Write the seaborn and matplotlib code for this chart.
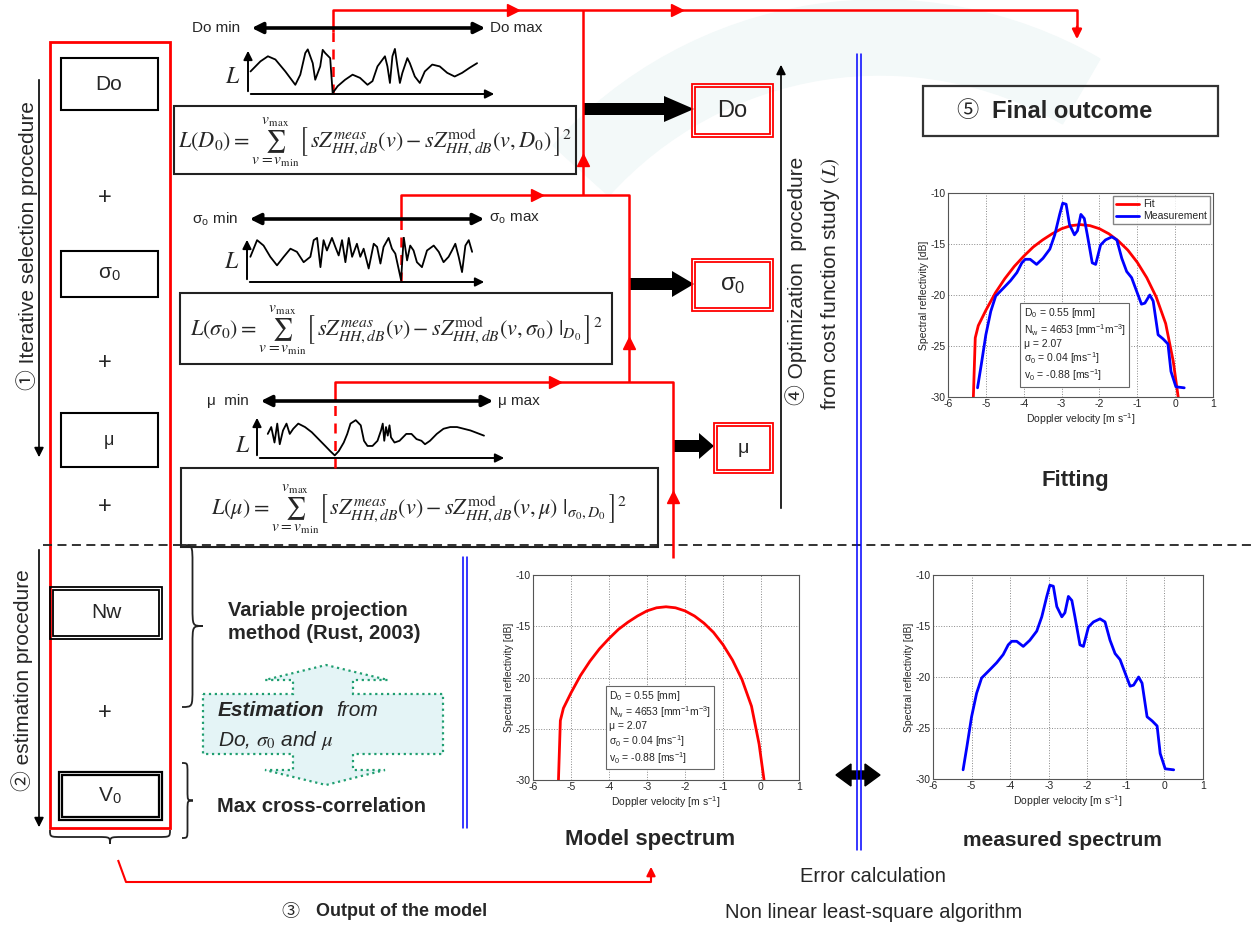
import numpy as np
import pandas as pd
import matplotlib.pyplot as plt
import matplotlib.patches as mpatches
from matplotlib.path import Path
import seaborn as sns

W, H = 1252, 927

# Spectra (Doppler velocity [m/s], dB)
model_v = [-5.33, -5.28, -5.2, -5.0, -4.75, -4.5, -4.25, -4.0, -3.75, -3.5, -3.25, -3.0,
           -2.75, -2.5, -2.25, -2.0, -1.75, -1.5, -1.25, -1.0, -0.75, -0.5, -0.25, -0.05, 0.08]
model_dB = [-30, -24.2, -23.0, -21.5, -19.8, -18.4, -17.2, -16.2, -15.3, -14.6, -14.0, -13.5,
            -13.2, -13.1, -13.2, -13.5, -14.0, -14.7, -15.6, -16.8, -18.3, -20.2, -22.8, -26.5, -30]
meas_v = [-5.22, -5.12, -5.0, -4.87, -4.74, -4.53, -4.35, -4.18, -4.05, -3.96, -3.83, -3.66,
          -3.49, -3.31, -3.18, -3.05, -2.97, -2.88, -2.79, -2.66, -2.58, -2.49, -2.40, -2.32,
          -2.19, -2.10, -1.97, -1.84, -1.67, -1.54, -1.41, -1.28, -1.15, -0.97, -0.89, -0.80,
          -0.67, -0.58, -0.45, -0.32, -0.19, -0.11, 0.02, 0.24]
meas_dB = [-29.1, -26.8, -23.9, -21.6, -20.1, -19.3, -18.6, -17.8, -16.85, -16.5, -16.5, -17.0,
           -16.4, -15.5, -14.1, -12.1, -11.0, -11.1, -13.1, -14.1, -13.7, -12.1, -12.5, -14.1,
           -16.85, -17.0, -15.1, -14.6, -14.3, -14.6, -16.4, -17.7, -18.3, -20.1, -20.9, -20.8,
           -20.0, -20.6, -23.9, -24.3, -24.8, -27.5, -29.0, -29.1]

xticks = [-6, -5, -4, -3, -2, -1, 0, 1]
yticks = [-30, -25, -20, -15, -10]
params_text = ('D$_\\mathregular{0}$ = 0.55 [mm]\n'
               'N$_\\mathregular{w}$ = 4653 [mm$^\\mathregular{-1}$m$^\\mathregular{-3}$]\n'
               'μ = 2.07\n'
               'σ$_\\mathregular{0}$ = 0.04 [ms$^\\mathregular{-1}$]\n'
               'v$_\\mathregular{0}$ = -0.88 [ms$^\\mathregular{-1}$]')

# cost function sketches: parameter position (0-100) and L (0-100)
do_pos = [1, 5, 8, 11, 15, 19, 21, 23, 24, 26, 27, 29, 30, 31, 33, 34, 36, 39, 42, 45, 48, 50,
          52, 55, 56, 57, 58, 59, 60, 61, 62, 64, 65, 67, 69, 71, 74, 77, 80, 83, 86, 89, 92]
do_L = [49, 71, 82, 75, 49, 20, 42, 89, 97, 67, 31, 60, 96, 89, 78, 2, 17, 31, 42, 35, 20, 28,
        60, 82, 60, 24, 82, 98, 60, 24, 46, 78, 67, 38, 24, 49, 64, 60, 46, 38, 46, 57, 67]
sig_pos = [1.4, 4.2, 6.9, 9.7, 12.5, 15.3, 18.1, 20.8, 23.6, 26.4, 27.8, 29.2, 30.6, 31.9, 33.3,
           35.4, 36.8, 38.2, 39.6, 41, 42.4, 43.8, 45.8, 47.2, 48.6, 50.7, 52.8, 54.2, 55.6, 56.9,
           59, 60.4, 61.8, 64.2, 65.3, 66.7, 68, 69.4, 70.8, 72.9, 75, 77.8, 79.9, 81.9, 84, 85.4,
           86.8, 88.2, 89.6, 91, 92.4, 93.8]
sig_L = [56, 93, 81, 56, 37, 56, 74, 67, 44, 56, 93, 98, 33, 93, 70, 98, 78, 59, 93, 44, 98, 56,
         85, 56, 74, 30, 85, 78, 41, 78, 98, 74, 63, 4, 100, 48, 81, 70, 44, 33, 70, 81, 67, 44,
         56, 70, 85, 56, 22, 81, 93, 67]
mu_pos = [4.3, 5.7, 7, 8.1, 9.1, 10.4, 11.8, 13.1, 14.5, 16.5, 19.2, 21.9, 24.6, 27.3, 29.3,
          31.1, 32.7, 34.7, 36.1, 37.4, 39.5, 41.5, 42.8, 44.2, 46.2, 48.2, 49.6, 50.3, 50.9,
          51.6, 52.3, 53, 53.6, 55, 57, 59.7, 61.8, 63.8, 65.8, 67.2, 69.2, 71.9, 74.6, 77.3,
          80, 82.7, 85.4, 88.1, 90.8]
mu_L = [56, 72, 36, 80, 32, 64, 80, 56, 68, 80, 72, 60, 44, 28, 16, 6, 16, 36, 56, 80, 88, 76,
        40, 28, 28, 40, 64, 80, 40, 72, 52, 76, 48, 36, 40, 56, 56, 44, 40, 32, 40, 56, 68, 72,
        72, 68, 64, 58, 52]

sns.set_style('white')
plt.rcParams['font.family'] = ['Liberation Sans', 'Noto Sans CJK JP', 'DejaVu Sans']
plt.rcParams['mathtext.fontset'] = 'stix'
plt.rcParams['axes.unicode_minus'] = False

RED = '#ff0000'
fig = plt.figure(figsize=(W / 100, H / 100), dpi=100)
ax = fig.add_axes([0, 0, 1, 1])
ax.set_xlim(0, W)
ax.set_ylim(H, 0)
ax.axis('off')


def px_axes(l, t, r, b):
    return fig.add_axes([l / W, 1 - b / H, (r - l) / W, (b - t) / H])


def rect(x0, y0, x1, y1, color='black', lw=1.5, **kw):
    ax.add_patch(mpatches.Rectangle((x0, y0), x1 - x0, y1 - y0, fill=False,
                                    edgecolor=color, lw=lw, **kw))


def double_rect(x0, y0, x1, y1, color='black', gap=3, lw=1.3):
    rect(x0, y0, x1, y1, color, lw)
    rect(x0 + gap, y0 + gap, x1 - gap, y1 - gap, color, lw)


def line(xs, ys, **kw):
    kw.setdefault('color', RED)
    kw.setdefault('lw', 1.8)
    ax.plot(xs, ys, solid_capstyle='butt', **kw)


def brace(x, y0, y1, w, vertical=True, lw=1.3):
    ym = (y0 + y1) / 2
    r = min(abs(w) * 0.9, abs(y1 - y0) / 4)
    h = x + w / 2
    pts = [(x, y0), (h, y0), (h, y0), (h, y0 + r), (h, ym - r),
           (h, ym), (h, ym), (x + w, ym), (h, ym), (h, ym), (h, ym + r),
           (h, y1 - r), (h, y1), (h, y1), (x, y1)]
    codes = [Path.MOVETO] + [Path.CURVE4] * 3 + [Path.LINETO] + [Path.CURVE4] * 6 + \
            [Path.LINETO] + [Path.CURVE4] * 3
    if not vertical:
        pts = [(p[1], p[0]) for p in pts]
    ax.add_patch(mpatches.PathPatch(Path(pts, codes), fill=False, lw=lw, edgecolor='#222'))


# faint background swoosh
ax.add_patch(mpatches.Wedge((880, 440), 440, 222, 300, width=75, color='#f3f9f9', zorder=0))

# left column
rect(50, 42, 170, 828, RED, lw=2)
for (y0, y1, lab, fs) in [(58, 110, 'Do', 15), (251, 297, 'σ$_\\mathregular{0}$', 15),
                          (413, 467, 'μ', 13)]:
    rect(61, y0, 158, y1)
    ax.text(109, (y0 + y1) / 2, lab, fontsize=fs, ha='center', va='center')
double_rect(50, 587, 162, 639)
ax.text(106, 613, 'Nw', fontsize=15, ha='center', va='center')
double_rect(59, 772, 162, 820, lw=1.6)
ax.text(110, 796, 'V$_\\mathregular{0}$', fontsize=15, ha='center', va='center')
for y in [198, 363, 507, 713]:
    ax.text(105, y, '+', fontsize=17, ha='center', va='center')
ax.annotate('', xy=(39, 460), xytext=(39, 77),
            arrowprops=dict(arrowstyle='-|>', color='k', lw=1.2, mutation_scale=14))
ax.annotate('', xy=(39, 830), xytext=(39, 547),
            arrowprops=dict(arrowstyle='-|>', color='k', lw=1.2, mutation_scale=14))
ax.text(27, 246, '① Iterative selection procedure', rotation=90, fontsize=15,
        ha='center', va='center')
ax.text(22, 680, '② estimation procedure', rotation=90, fontsize=15,
        ha='center', va='center')

# dashed separator
ax.plot([43, W], [545, 545], color='#222', lw=1.3, ls=(0, (5, 3)))

# cost function sketches
sketches = [
    (do_pos, do_L, (248, 48, 497, 94), ('Do min', 'Do max'), (249, 488, 28), (233, 77)),
    (sig_pos, sig_L, (247, 237, 487, 282),
     ('σ$_\\mathregular{o}$ min', 'σ$_\\mathregular{o}$ max'), (247, 487, 219), (232, 262)),
    (mu_pos, mu_L, (257, 415, 507, 458), ('μ  min', 'μ max'), (258, 496, 401), (243, 446)),
]
min_x = []
for pos, L, box, labs, arr, lpos in sketches:
    a = px_axes(*box)
    a.set_xlim(0, 100)
    a.set_ylim(0, 100)
    a.axis('off')
    sns.lineplot(x=pos, y=L, color='black', lw=1.3, ax=a, sort=False, estimator=None)
    ap = dict(arrowstyle='-|>', color='k', lw=1.4, mutation_scale=13)
    a.annotate('', xy=(100, 0), xytext=(0, 0), arrowprops=ap, annotation_clip=False)
    a.annotate('', xy=(0, 100), xytext=(0, 0), arrowprops=ap, annotation_clip=False)
    x_best = box[0] + pos[int(np.argmin(L))] / 100 * (box[2] - box[0])
    min_x.append(x_best)
    ax.annotate('', xy=(arr[1], arr[2]), xytext=(arr[0], arr[2]),
                arrowprops=dict(arrowstyle='<|-|>', color='k', lw=2.6, mutation_scale=16))
    ax.text(arr[0] - 9, arr[2], labs[0], fontsize=11, ha='right', va='center')
    ax.text(arr[1] + 2, arr[2], labs[1], fontsize=11, ha='left', va='center')
    ax.text(lpos[0], lpos[1], '$L$', fontsize=17, ha='center', va='center')

# formula boxes
formulas = [
    (174, 106, 576, 174,
     r'$L\left(D_0\right)=\sum_{v=v_{\min}}^{v_{\max}}\left[\,sZ_{HH,dB}^{meas}(v)-sZ_{HH,dB}^{\mathrm{mod}}\left(v,D_0\right)\,\right]^2$'),
    (180, 293, 612, 364,
     r'$L\left(\sigma_0\right)=\sum_{v=v_{\min}}^{v_{\max}}\left[\,sZ_{HH,dB}^{meas}(v)-sZ_{HH,dB}^{\mathrm{mod}}(v,\sigma_0)\ |_{D_0}\,\right]^2$'),
    (181, 468, 658, 547,
     r'$L\left(\mu\right)=\sum_{v=v_{\min}}^{v_{\max}}\left[\,sZ_{HH,dB}^{meas}(v)-sZ_{HH,dB}^{\mathrm{mod}}\left(v,\mu\right)\ |_{\sigma_0,D_0}\,\right]^2$'),
]
for x0, y0, x1, y1, f in formulas:
    rect(x0, y0, x1, y1, '#222', lw=1.5)
    ax.text((x0 + x1) / 2, (y0 + y1) / 2 + 2, f, fontsize=16, ha='center', va='center')

# red flow lines
xd, xs, xm = min_x
line([xd, xd, 1077, 1077], [32, 10, 10, 28])
ax.annotate('', xy=(1077, 42), xytext=(1077, 24),
            arrowprops=dict(arrowstyle='-|>', color=RED, lw=1.8, mutation_scale=14))
line([xd, xd], [94, 32], ls=(0, (4, 3)))
line([583, 583], [195, 10])
line([xs, xs, 629, 629], [219, 195, 195, 382])
line([xs, xs], [282, 219], ls=(0, (4, 3)))
line([xm, xm, 673, 673], [401, 382, 382, 558])
line([xm, xm], [468, 401], ls=(0, (4, 3)))
for (mx, my, m) in [(513, 10, '>'), (677, 10, '>'), (583, 160, '^'), (537, 195, '>'),
                    (629, 343, '^'), (555, 382, '>'), (673, 497, '^')]:
    ax.plot(mx, my, marker=m, color=RED, ms=8, mec=RED)
line([118, 126, 651, 651], [860, 882, 882, 876], lw=1.5)
ax.annotate('', xy=(651, 864), xytext=(651, 882),
            arrowprops=dict(arrowstyle='-|>', color=RED, lw=1.5, mutation_scale=13))

# black block arrows and result boxes
for x0, x1, y, hl in [(583, 694, 109, 30), (629, 694, 284, 22), (673, 714, 446, 15)]:
    ax.add_patch(mpatches.FancyArrow(x0, y, x1 - x0, 0, width=12, head_width=26,
                                     head_length=hl, length_includes_head=True,
                                     color='black', lw=0))
for x0, y0, x1, y1, lab, fs in [(692, 84, 773, 137, 'Do', 17),
                                (692, 259, 773, 311, 'σ$_\\mathregular{0}$', 17),
                                (714, 423, 773, 473, 'μ', 14)]:
    double_rect(x0, y0, x1, y1, RED, gap=3, lw=1.3)
    ax.text((x0 + x1) / 2, (y0 + y1) / 2, lab, fontsize=fs, ha='center', va='center')

# optimisation label
ax.annotate('', xy=(781, 62), xytext=(781, 511),
            arrowprops=dict(arrowstyle='-|>', color='k', lw=1.2, mutation_scale=14))
ax.text(796, 281, '④ Optimization  procedure', rotation=90, fontsize=15,
        ha='center', va='center')
ax.text(830, 284, 'from cost function study $(L)$', rotation=90, fontsize=15,
        ha='center', va='center')

# blue double separators
for x, y0, y1 in [(465, 557, 828), (859, 54, 850)]:
    ax.plot([x - 1.6, x - 1.6], [y0, y1], color='blue', lw=1.1)
    ax.plot([x + 1.6, x + 1.6], [y0, y1], color='blue', lw=1.1)

# double-headed black arrow between spectra
ax.add_patch(mpatches.Polygon([(836, 775), (851, 764), (851, 771), (865, 771), (865, 764),
                               (880, 775), (865, 786), (865, 779), (851, 779), (851, 786)],
                              closed=True, color='black'))

# braces and estimation annotations
brace(182, 545, 707, 21)
brace(182, 763, 838, 11)
brace(830, 50, 170, 14, vertical=False)
ax.text(228, 622, 'Variable projection\nmethod (Rust, 2003)', fontsize=14.5,
        fontweight='bold', ha='left', va='center', linespacing=1.25)
ax.text(217, 806, 'Max cross-correlation', fontsize=14.5, fontweight='bold',
        ha='left', va='center')
ax.add_patch(mpatches.Polygon([(203, 694), (293, 694), (293, 680), (265, 680), (326, 665),
                               (388, 680), (353, 680), (353, 694), (443, 694), (443, 754),
                               (353, 754), (353, 770), (385, 770), (326, 785), (265, 770),
                               (293, 770), (293, 754), (203, 754)], closed=True,
                              facecolor='#e4f4f6', edgecolor='#1f9e70', ls=':', lw=1.6))
ax.text(218, 711, 'Estimation', fontsize=15, fontweight='bold', style='italic',
        ha='left', va='center')
ax.text(336, 711, 'from', fontsize=15, style='italic', ha='left', va='center')
ax.text(218, 741, 'Do, $\\sigma_0$ and $\\mu$', fontsize=15, style='italic',
        ha='left', va='center')

# final outcome
rect(923, 86, 1218, 136, '#333', lw=1.6)
ax.text(967, 111, '⑤', fontsize=16, ha='center', va='center')
ax.text(992, 111, 'Final outcome', fontsize=17, fontweight='bold', ha='left', va='center')

# captions
ax.text(1075, 480, 'Fitting', fontsize=16, fontweight='bold', ha='center', va='center')
ax.text(650, 840, 'Model spectrum', fontsize=16, fontweight='bold', ha='center', va='center')
ax.text(1062, 840, 'measured spectrum', fontsize=15, fontweight='bold', ha='center',
        va='center')
ax.text(873, 877, 'Error calculation', fontsize=14.5, ha='center', va='center')
ax.text(874, 912, 'Non linear least-square algorithm', fontsize=14.5, ha='center',
        va='center')
ax.text(290, 912, '③', fontsize=13, ha='center', va='center')
ax.text(316, 912, 'Output of the model', fontsize=13, fontweight='bold', ha='left',
        va='center')


# spectrum plots
def spectrum_axes(box, curves, info=True, legend=False):
    a = px_axes(*box)
    for v, db, c, lab in curves:
        sns.lineplot(x=v, y=db, color=c, lw=2, ax=a, sort=False, estimator=None, label=lab)
    a.set_xlim(-6, 1)
    a.set_ylim(-30, -10)
    a.set_xticks(xticks)
    a.set_yticks(yticks)
    a.grid(True, ls=':', color='#888', lw=0.7)
    a.tick_params(labelsize=7.5, length=2, pad=1.5, direction='in')
    a.set_xlabel('Doppler velocity [m s$^\\mathregular{-1}$]', fontsize=7.5, labelpad=2)
    a.set_ylabel('Spectral reflectivity [dB]', fontsize=7.5, labelpad=1)
    for s in a.spines.values():
        s.set_color('#555')
        s.set_linewidth(0.8)
    if info:
        a.text(0.285, 0.445, params_text, transform=a.transAxes, fontsize=7.5, va='top',
               ha='left', linespacing=1.15,
               bbox=dict(boxstyle='square,pad=0.3', fc='white', ec='#666', lw=0.8))
    if legend:
        a.legend(loc='upper right', fontsize=7.5, frameon=True, fancybox=False,
                 edgecolor='#666', handlelength=2.2, borderpad=0.3, labelspacing=0.2,
                 borderaxespad=0.3, handletextpad=0.4)
    elif a.get_legend() is not None:
        a.get_legend().remove()
    return a


spectrum_axes((948, 193, 1213, 397),
              [(model_v, model_dB, RED, 'Fit'), (meas_v, meas_dB, 'blue', 'Measurement')],
              legend=True)
spectrum_axes((533, 575, 799, 780), [(model_v, model_dB, RED, None)])
spectrum_axes((933, 575, 1203, 779), [(meas_v, meas_dB, 'blue', None)], info=False)

fig.savefig('out.png', dpi=100)
